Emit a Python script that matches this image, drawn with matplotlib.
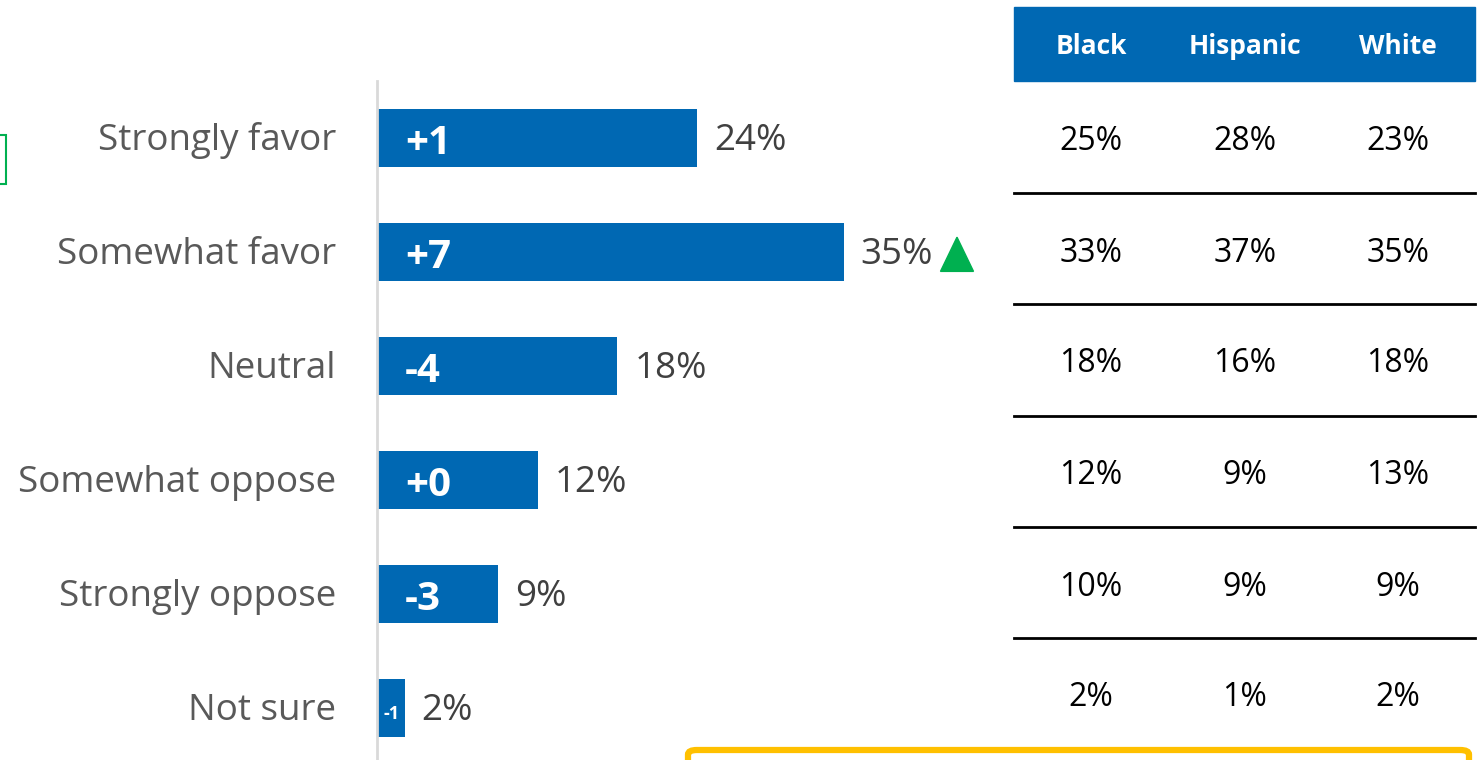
import matplotlib
matplotlib.use("Agg")
import matplotlib.pyplot as plt
from matplotlib.patches import Rectangle, FancyBboxPatch, Polygon
from matplotlib.lines import Line2D

categories = ["Strongly favor", "Somewhat favor", "Neutral", "Somewhat oppose", "Strongly oppose", "Not sure"]
values = [24, 35, 18, 12, 9, 2]
changes = ["+1", "+7", "-4", "+0", "-3", "-1"]
up_flags = [False, True, False, False, False, False]

table_cols = ["Black", "Hispanic", "White"]
black = ["25%", "33%", "18%", "12%", "10%", "2%"]
hispanic = ["28%", "37%", "16%", "9%", "9%", "1%"]
white = ["23%", "35%", "18%", "13%", "9%", "2%"]

W, H = 1481, 760
fig = plt.figure(figsize=(W / 100, H / 100), dpi=100)
plt.rcParams['font.family'] = ['Open Sans', 'DejaVu Sans']

BLUE = "#0068B3"
FONT = "Open Sans"

# bar axes: x in percent, y in category index
x0 = 378
px_per_pct = 13.3
row_h = 114
first_c = 138
ax = fig.add_axes([x0 / W, 0, 1 - x0 / W, 1])
ax.set_xlim(0, (W - x0) / px_per_pct)
ax.set_ylim((H - first_c) / row_h, -first_c / row_h)
ax.axis("off")

ypos = list(range(len(categories)))
ax.barh(ypos, values, height=58 / row_h, color=BLUE, zorder=2)

dy = 3 / row_h
for i, (cat, v, ch, up) in enumerate(zip(categories, values, changes, up_flags)):
    ax.text(-42 / px_per_pct, i + dy, cat, ha="right", va="center", fontsize=26.5,
            color="#595959", family=FONT)
    ax.text(v + 17 / px_per_pct, i + dy, f"{v}%", ha="left", va="center", fontsize=26.5,
            color="#404040", family=FONT)
    if v >= 5:
        ax.text(27 / px_per_pct, i + 0.05, ch, ha="left", va="center", fontsize=29,
                color="white", fontweight="bold", family=FONT)
    else:
        ax.text(v / 2, i + 0.05, ch, ha="center", va="center", fontsize=13,
                color="white", fontweight="bold", family=FONT)
    if up:
        tx = v + 97 / px_per_pct
        tri = Polygon([[tx, i + 0.17], [tx + 33 / px_per_pct, i + 0.17],
                       [tx + 16.5 / px_per_pct, i - 0.13]], closed=True,
                      color="#00B050", zorder=3)
        ax.add_patch(tri)

# vertical axis line
fig.add_artist(Line2D([377 / W, 377 / W], [0, 1 - 81 / H], color="#D9D9D9", lw=2))

# table header band
fig.add_artist(Rectangle((1014 / W, 1 - 81 / H), (1475 - 1014) / W, (81 - 7) / H,
                         transform=fig.transFigure, color=BLUE, zorder=1))
col_x = [1091, 1245, 1398]
for cx, name in zip(col_x, table_cols):
    fig.text(cx / W, 1 - 47 / H, name, ha="center", va="center", fontsize=19,
             color="white", fontweight="bold", family=FONT)

rows_y = [141, 253, 364, 475, 587, 698]
for j, col in enumerate([black, hispanic, white]):
    for r, val in enumerate(col):
        fig.text(col_x[j] / W, 1 - rows_y[r] / H, val, ha="center", va="center",
                 fontsize=23, color="black", family=FONT)

for ly in [193, 304, 416, 527, 638]:
    fig.add_artist(Line2D([1014 / W, 1475 / W], [1 - ly / H, 1 - ly / H],
                          color="black", lw=2))

# green box at left edge
fig.add_artist(Rectangle((-20 / W, 1 - 184 / H), 26 / W, 49 / H, transform=fig.transFigure,
                         fill=False, edgecolor="#00B050", lw=1.5))

# yellow rounded box at bottom
fig.add_artist(FancyBboxPatch((688 / W, -40 / H), (1469 - 688) / W, 50 / H,
                              boxstyle="round,pad=0,rounding_size=0.006",
                              transform=fig.transFigure, fill=False,
                              edgecolor="#FFC000", lw=4.5))

fig.savefig("out.png", dpi=100, facecolor="white")
